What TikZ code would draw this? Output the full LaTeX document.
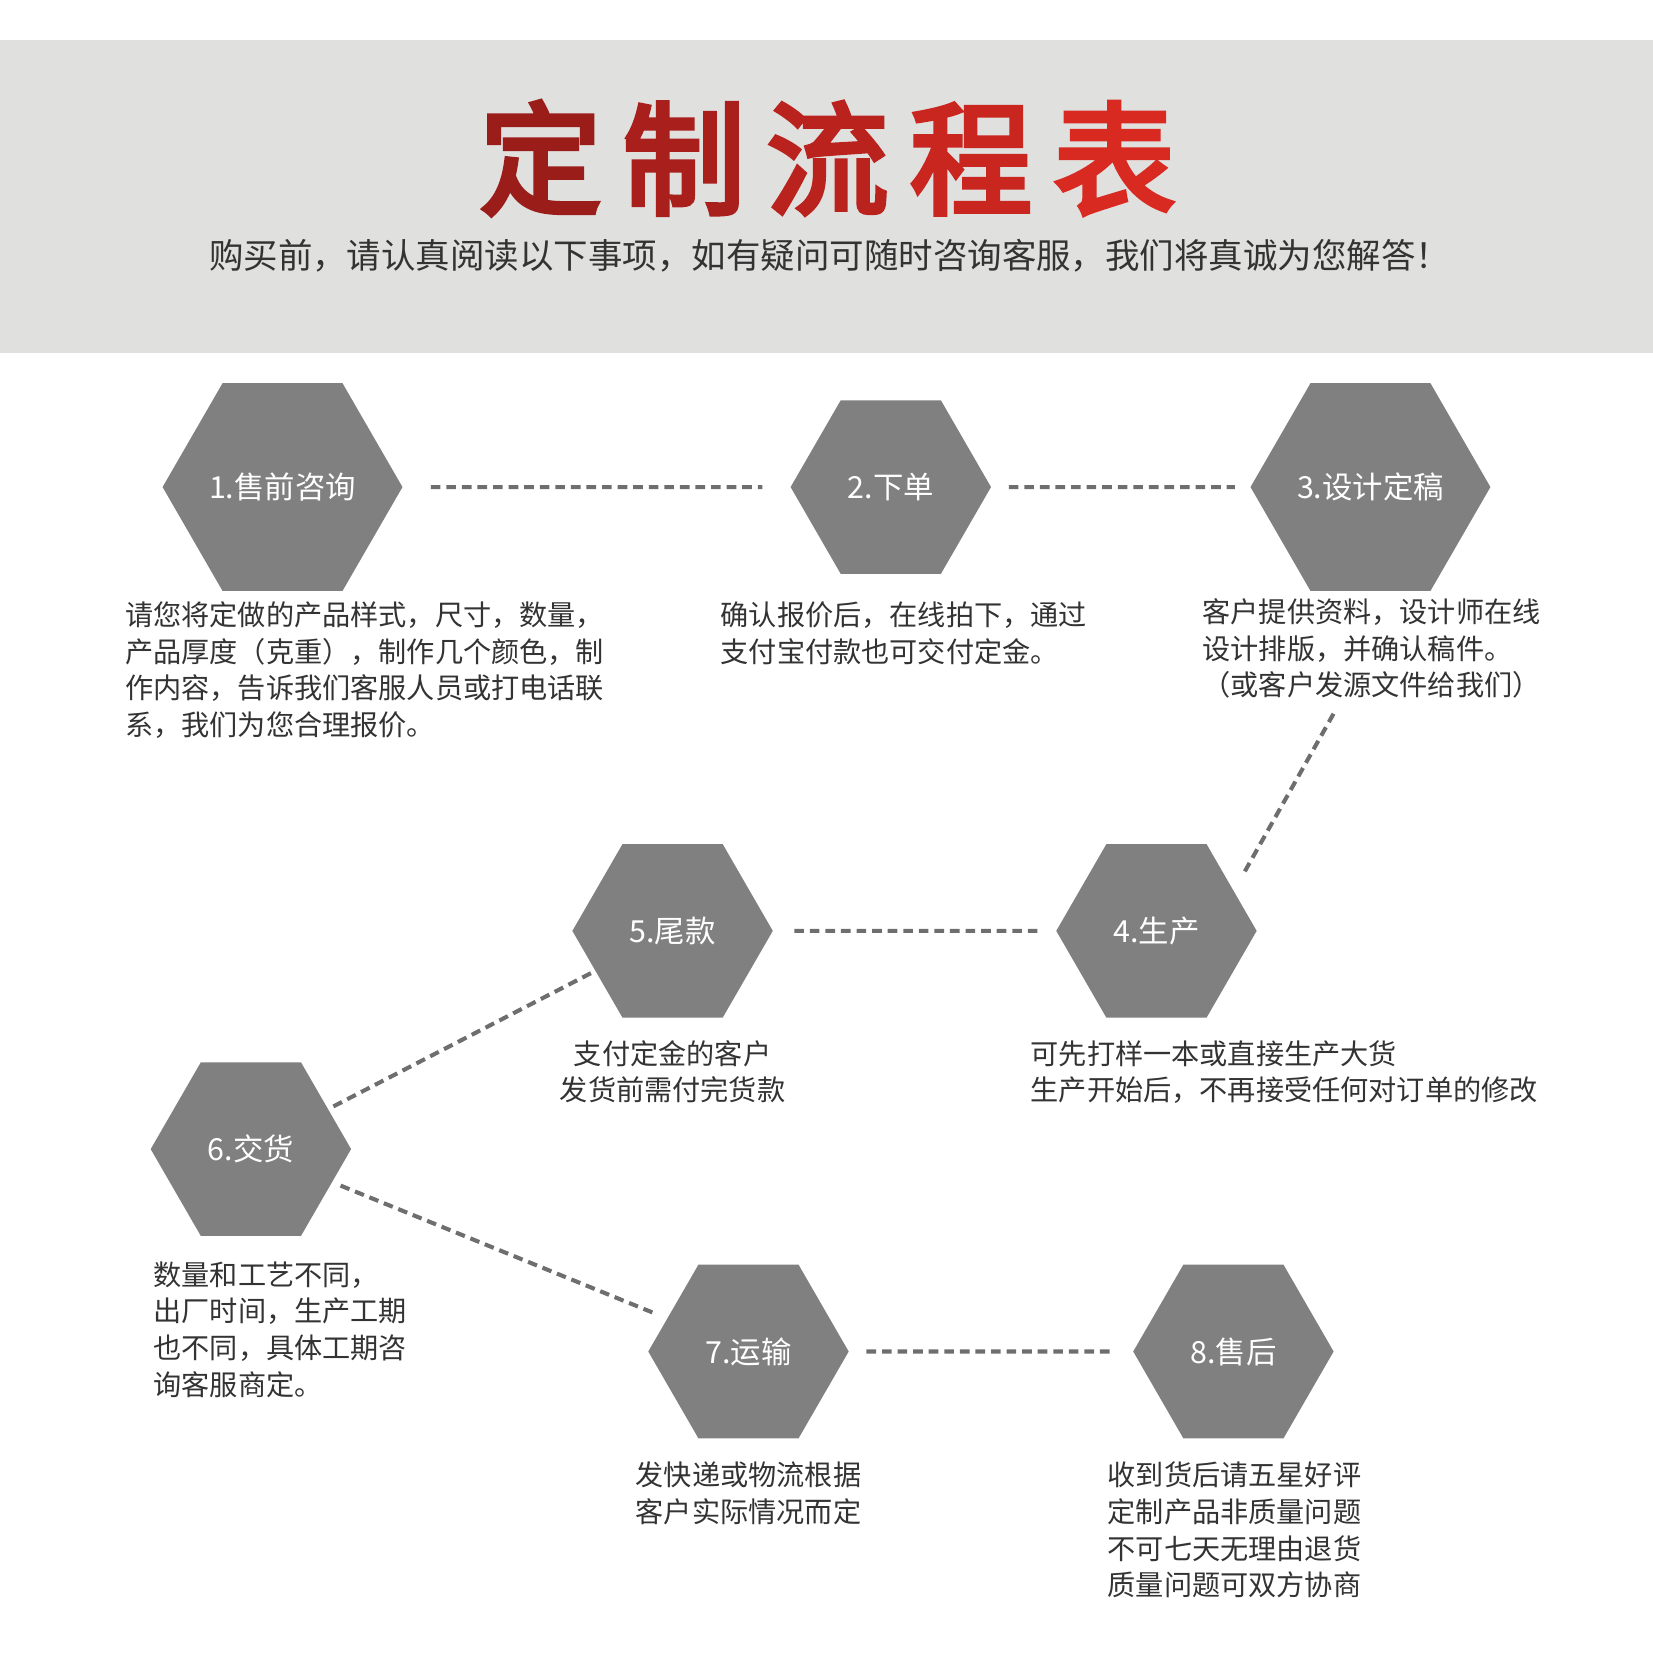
\documentclass[tikz,border=0pt]{standalone}
\usepackage{fontspec}
\setmainfont{Noto Sans CJK SC}
\newfontfamily\titlefont{Noto Sans CJK SC}[FakeBold=4]
\usetikzlibrary{positioning, shapes.geometric}
\definecolor{bandgray}{HTML}{E0E0DF}
\definecolor{hexgray}{HTML}{808080}
\definecolor{dashgray}{HTML}{6E6E6E}
\definecolor{txtgray}{HTML}{333333}
\tikzset{
    hexa/.style={
        regular polygon, regular polygon sides=6,
        fill=hexgray, minimum size=1.9cm, inner sep=0pt,
        text=white, font=\fontsize{8.2pt}{10pt}\selectfont
    },
    note/.style={
        anchor=north west, align=left, inner sep=0pt,
        text=txtgray, font=\fontsize{7.6pt}{9.9pt}\selectfont
    },
    cnote/.style={note, anchor=north, align=center},
    link/.style={dashgray, line width=1.1pt, dash pattern=on 2.6pt off 1.6pt}
}
\begin{document}
\begin{tikzpicture}[x=0.01cm, y=-0.01cm]
\useasboundingbox (0,0) rectangle (1568,1568);
\fill[bandgray] (0,38) rectangle (1568,335);

% Title
\node[font=\titlefont\fontsize{33pt}{36pt}\selectfont] (title) at (785,150)
    {\textcolor[HTML]{9A1D1A}{定}\hspace{0.2cm}\textcolor[HTML]{A81F1C}{制}\hspace{0.2cm}\textcolor[HTML]{BA221E}{流}\hspace{0.2cm}\textcolor[HTML]{CA2620}{程}\hspace{0.2cm}\textcolor[HTML]{D92A22}{表}};
\node[text=txtgray, font=\fontsize{9.3pt}{11pt}\selectfont] (subtitle) at (787,243)
    {购买前，请认真阅读以下事项，如有疑问可随时咨询客服，我们将真诚为您解答！};

% Hexagons
\node[hexa] (h1) at (268,462) {1.售前咨询};
\node[hexa] (h2) at (845,462) {2.下单};
\node[hexa] (h3) at (1300,462) {3.设计定稿};
\node[hexa] (h4) at (1097,883) {4.生产};
\node[hexa] (h5) at (638,883) {5.尾款};
\node[hexa] (h6) at (238,1090) {6.交货};
\node[hexa] (h7) at (710,1282) {7.运输};
\node[hexa] (h8) at (1170,1282) {8.售后};

% Notes
\node[note] (t1) at (118,570) {请您将定做的产品样式，尺寸，数量，\\产品厚度（克重），制作几个颜色，制\\作内容，告诉我们客服人员或打电话联\\系，我们为您合理报价。};
\node[note] (t2) at (683,570) {确认报价后，在线拍下，通过\\支付宝付款也可交付定金。};
\node[note] (t3) at (1140,567) {客户提供资料，设计师在线\\设计排版，并确认稿件。\\（或客户发源文件给我们）};
\node[note] (t4) at (977,986) {可先打样一本或直接生产大货\\生产开始后，不再接受任何对订单的修改};
\node[cnote] (t5) at (638,986) {支付定金的客户\\发货前需付完货款};
\node[note] (t6) at (145,1196) {数量和工艺不同，\\出厂时间，生产工期\\也不同，具体工期咨\\询客服商定。};
\node[cnote] (t7) at (710,1386) {发快递或物流根据\\客户实际情况而定};
\node[note] (t8) at (1050,1386) {收到货后请五星好评\\定制产品非质量问题\\不可七天无理由退货\\质量问题可双方协商};

% Lines
\coordinate (c3) at (1265,677);
\coordinate (c4) at (1180,828);
\draw[link, shorten <=0.26cm, shorten >=0.26cm] (h1) -- (h2);
\draw[link, shorten <=0.16cm, shorten >=0.14cm] (h2) -- (h3);
\draw[link] (c3) -- (c4);
\draw[link, shorten <=0.17cm, shorten >=0.17cm] (h4) -- (h5);
\draw[link, shorten <=0.05cm, shorten >=0.02cm] (h6) -- (h5);
\draw[link, shorten <=0.08cm, shorten >=0.12cm] (h6) -- (h7);
\draw[link, shorten <=0.16cm, shorten >=0.16cm] (h7) -- (h8);
\end{tikzpicture}
\end{document}
